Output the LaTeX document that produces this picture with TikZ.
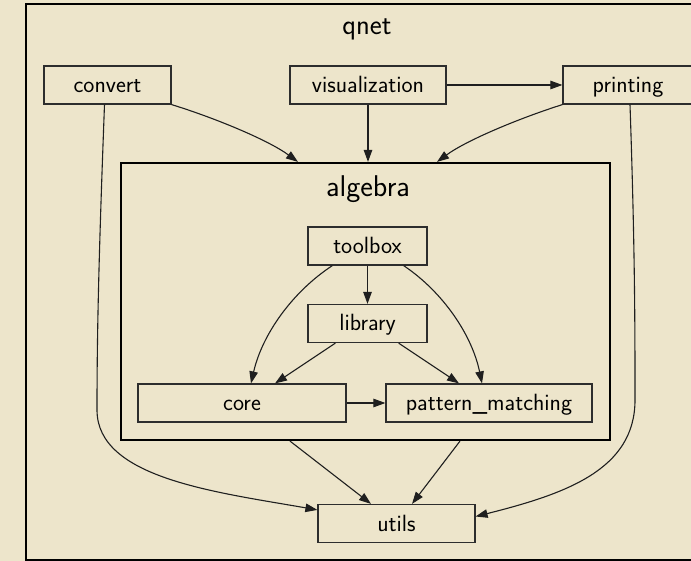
\documentclass[tikz,border=0pt]{standalone}
\usetikzlibrary{arrows.meta,calc}
\definecolor{paper}{RGB}{237,229,203}
\definecolor{ink}{RGB}{45,45,45}
\begin{document}
\begin{tikzpicture}[x=1pt,y=-1pt,
  mod/.style={draw=ink, line width=1.2pt, text=black, inner sep=0pt,
    font=\sffamily\fontsize{23.5}{27}\selectfont, minimum height=38pt,
    text height=15pt, text depth=0pt},
  cluster/.style={draw=black, line width=2.2pt, inner sep=0pt},
  ctitle/.style={text=black, inner sep=0pt, font=\sffamily\fontsize{28.5}{32}\selectfont},
  dep/.style={draw=black!88, line width=1.1pt, -{Triangle[length=12pt,width=8.5pt]}}]

% page and background
\useasboundingbox (0,0) rectangle (691,561);
\fill[paper] (0,0) rectangle (691,561);

% package frame
\draw[black, line width=2.4pt] (26,4) rectangle (760,560);
\node[ctitle] (qnettitle) at (367,29) {qnet};

% top-level modules
\node[mod, minimum width=127pt] (convert) at (107.5,85) {convert};
\node[mod, minimum width=156pt] (vis) at (368,85) {visualization};
\node[mod, minimum width=130pt] (printing) at (628,85) {printing};

% algebra subpackage
\node[cluster, minimum width=489pt, minimum height=277pt] (algebra) at (365.5,301.5) {};
\node[ctitle, font=\sffamily\fontsize{30}{34}\selectfont] (algebratitle) at (368,189) {algebra};
\node[mod, minimum width=119pt] (toolbox) at (367.5,246) {toolbox};
\node[mod, minimum width=119pt] (library) at (367.5,323.5) {library};
\node[mod, minimum width=208pt] (core) at (242,403) {core};
\node[mod, minimum width=206pt] (pm) at (489,403) {pattern\_matching};

\node[mod, minimum width=157pt] (utils) at (396.5,523.5) {utils};

% entry points on the subpackage frame
\coordinate (algin1) at ($(algebra.north)+(-67.5,0)$);
\coordinate (algin2) at ($(algebra.north)+(2.5,0)$);
\coordinate (algin3) at ($(algebra.north)+(71.5,0)$);
\coordinate (algout1) at ($(algebra.south)+(-75.5,0)$);
\coordinate (algout2) at ($(algebra.south)+(94.5,0)$);

% dependencies into algebra
\draw[dep] (convert.south east) .. controls (215,118) and (268,140) .. (algin1);
\draw[dep] (vis.south -| algin2) -- (algin2);
\draw[dep] (printing.south west) .. controls (520,118) and (467,140) .. (algin3);
\draw[dep] (vis.east) -- (printing.west);

% dependencies on utils
\draw[dep] ($(convert.south)+(-3,0)$) .. controls (99,250) and (97,330) .. (97,410)
  .. controls (97,478) and (215,492) .. ($(utils.north west)+(0,6)$);
\draw[dep] ($(printing.south)+(2,0)$) .. controls (635,250) and (635,330) .. (635,400)
  .. controls (635,470) and (565,494) .. ($(utils.east)+(0,-7)$);
\draw[dep] (algout1) -- ($(utils.north)+(-25.5,0)$);
\draw[dep] (algout2) -- ($(utils.north)+(15.5,0)$);

% inside algebra
\draw[dep] (toolbox.south) -- (library.north);
\draw[dep] ($(toolbox.south west)+(25,0)$) .. controls (292,292) and (262,335) .. ($(core.north)+(9,0)$);
\draw[dep] ($(toolbox.south east)+(-24,0)$) .. controls (443,292) and (472,335) .. ($(pm.north)+(-7,0)$);
\draw[dep] ($(library.south west)+(28,0)$) -- ($(core.north)+(33,0)$);
\draw[dep] ($(library.south east)+(-29,0)$) -- ($(pm.north)+(-30,0)$);
\draw[dep] (core.east) -- (pm.west);
\end{tikzpicture}
\end{document}
